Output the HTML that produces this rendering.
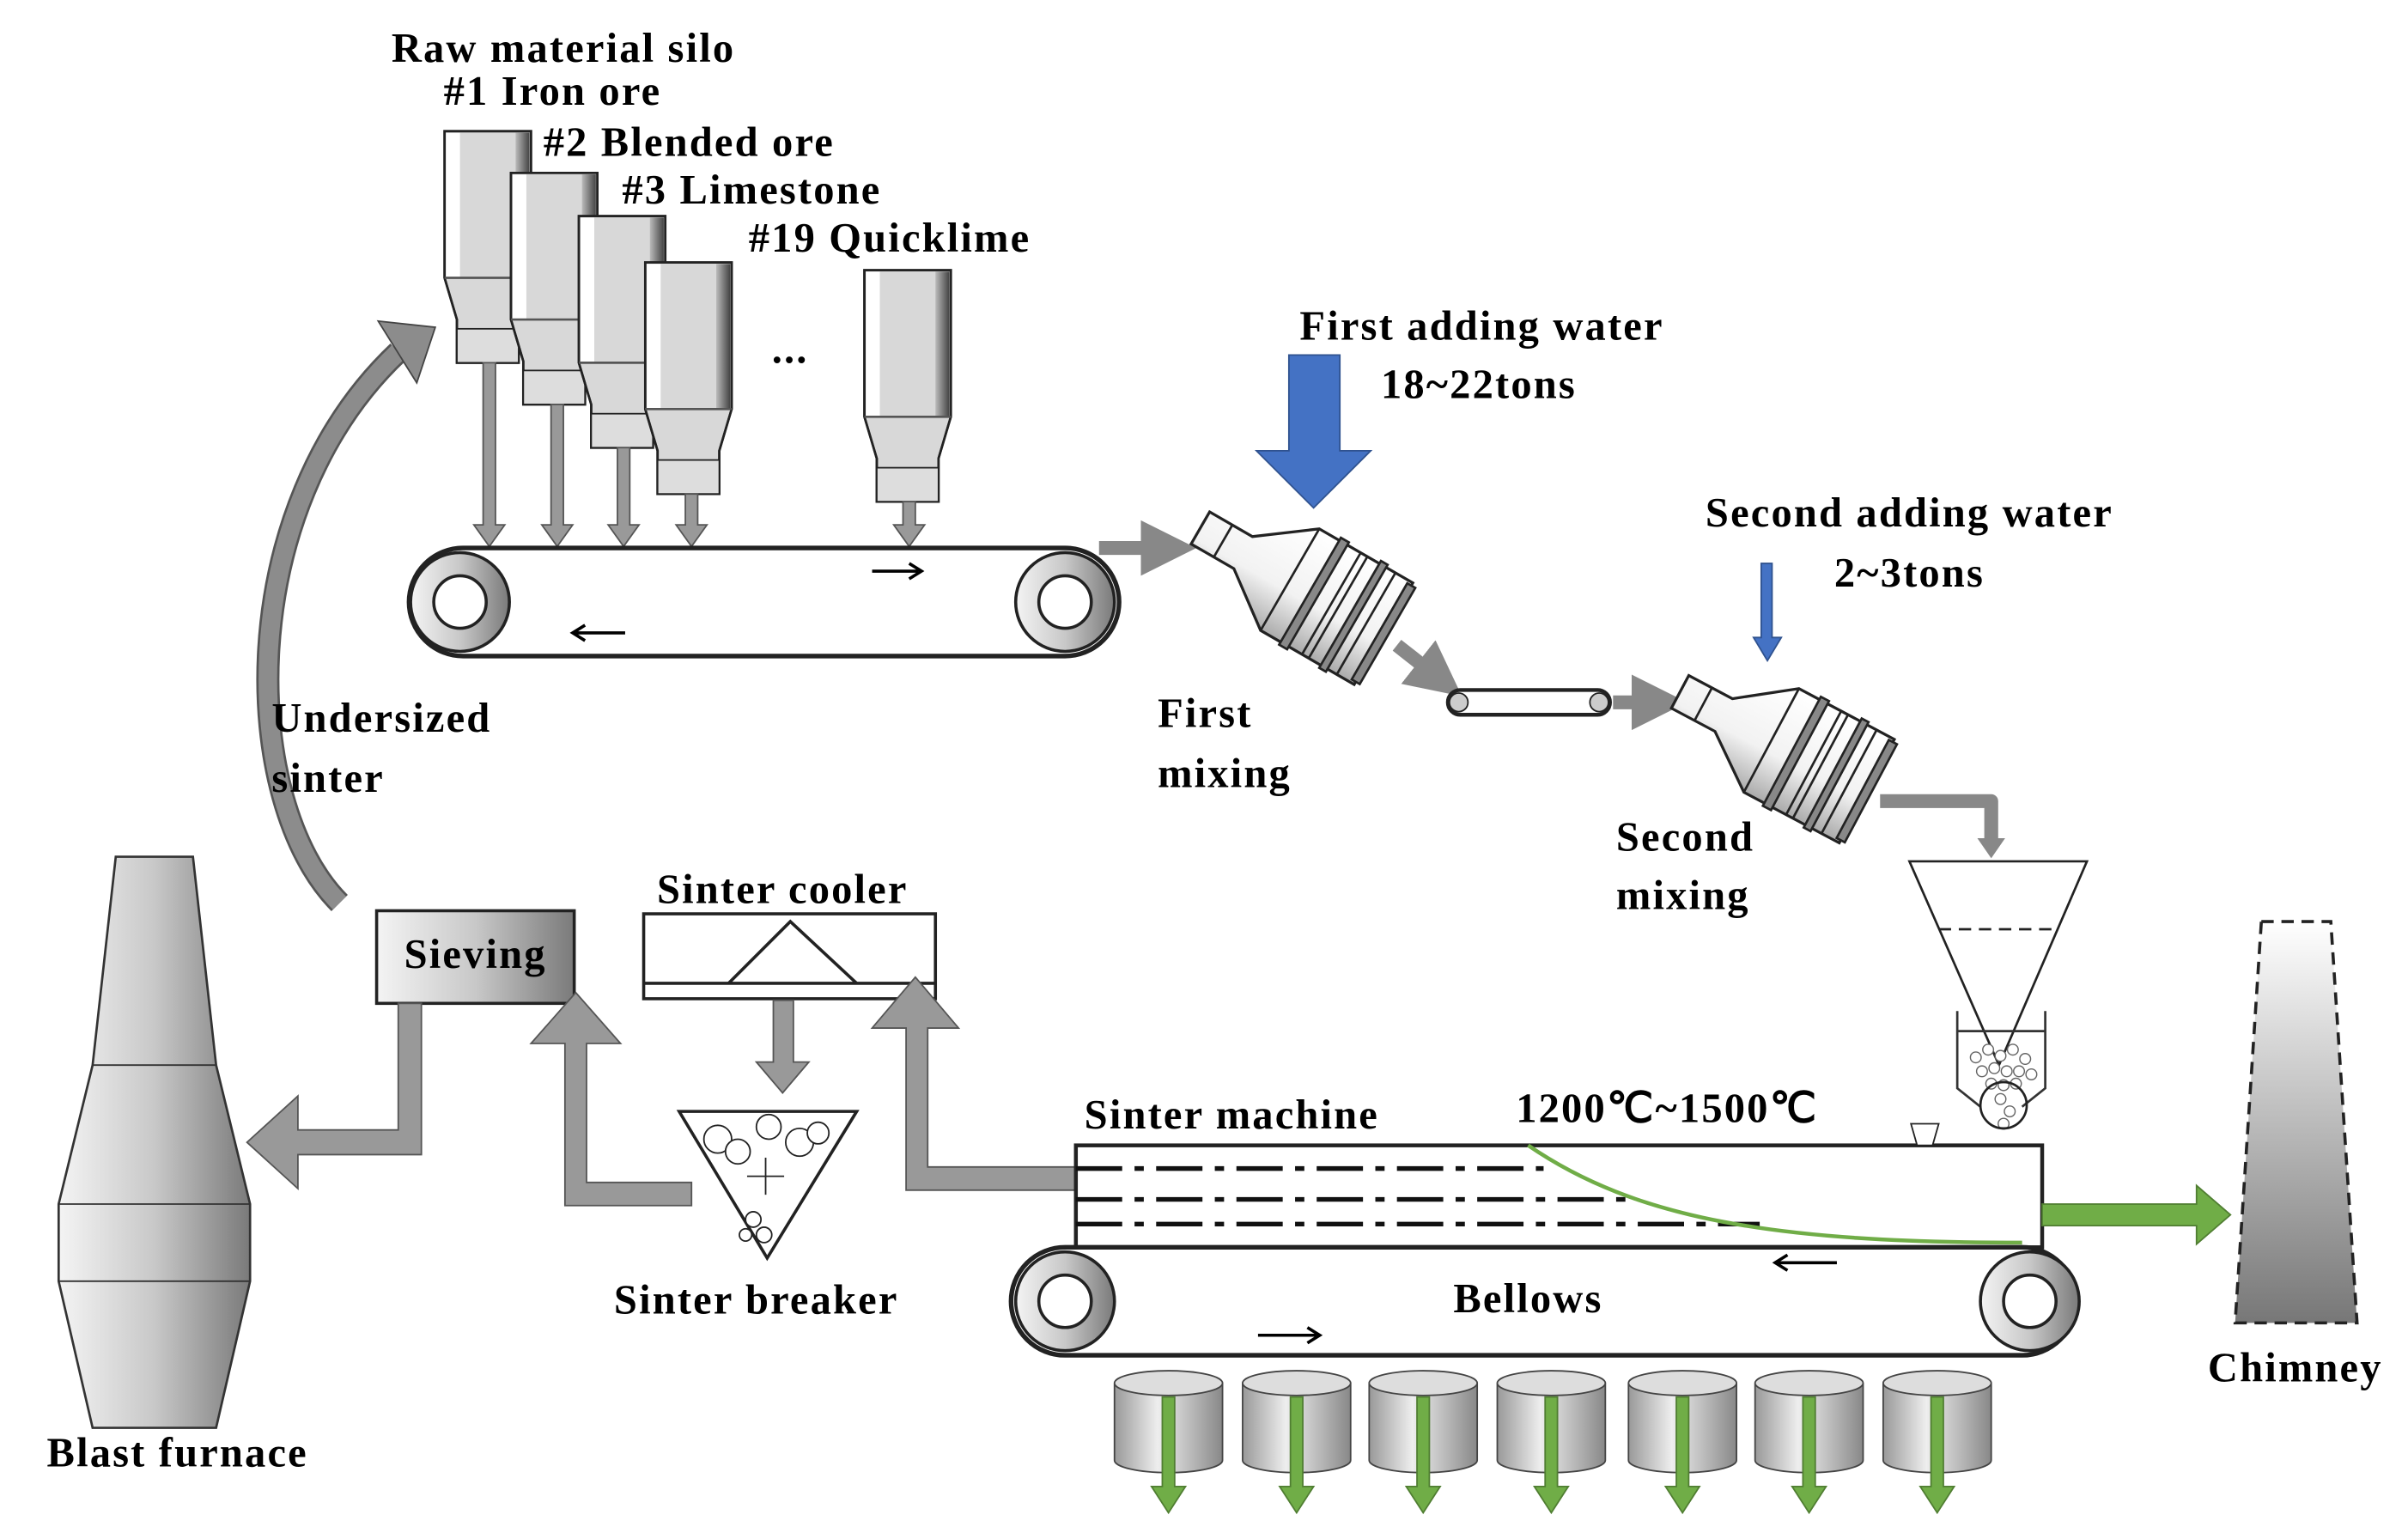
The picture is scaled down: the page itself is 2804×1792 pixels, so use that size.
<!DOCTYPE html>
<html><head><meta charset="utf-8"><style>html,body{margin:0;padding:0;background:#fff}svg{display:block}</style></head>
<body>
<svg width="2804" height="1792" viewBox="0 0 1560 997" preserveAspectRatio="none" xmlns="http://www.w3.org/2000/svg" font-family="Liberation Serif, serif" font-weight="bold" font-size="27" letter-spacing="1.2">
<defs>
<linearGradient id="g" x1="0" x2="1"><stop offset="0" stop-color="#f4f4f4"/><stop offset="0.5" stop-color="#c8c8c8"/><stop offset="1" stop-color="#7a7a7a"/></linearGradient>
<linearGradient id="dk" x1="0" x2="1"><stop offset="0" stop-color="#bbb"/><stop offset="1" stop-color="#444"/></linearGradient>
<linearGradient id="gv" x1="0" y1="0" x2="0" y2="1"><stop offset="0" stop-color="#fff"/><stop offset="1" stop-color="#777"/></linearGradient>
<linearGradient id="mx" x1="0" y1="0" x2="0" y2="1"><stop offset="0" stop-color="#fff"/><stop offset="0.6" stop-color="#f2f2f2"/><stop offset="1" stop-color="#aaa"/></linearGradient>
<linearGradient id="cyl" x1="0" x2="1"><stop offset="0" stop-color="#999"/><stop offset="0.4" stop-color="#eee"/><stop offset="1" stop-color="#888"/></linearGradient>
<g id="silo"><path d="M0,0 H56 V95 L48,122 V150 H8 V122 L0,95 Z" fill="#d8d8d8" stroke="#222" stroke-width="1.5"/>
<path d="M1,1 H10 V95 H1Z" fill="#fff"/><path d="M46,1 H55 V95 H46Z" fill="url(#dk)"/>
<path d="M0,0 H56 V95 L48,122 V150 H8 V122 L0,95 Z" fill="none" stroke="#222" stroke-width="1.5"/>
<line x1="0" y1="95" x2="56" y2="95" stroke="#555" stroke-width="1.5"/>
<rect x="8" y="128" width="40" height="22" fill="#ddd" stroke="#222"/></g>
<g id="mixer"><path d="M-72,-12 H-40 L-5,-38 H65 V38 H-5 L-40,12 H-72 Z" fill="url(#mx)" stroke="#222" stroke-width="1.8"/>
<line x1="-55" y1="-12" x2="-55" y2="12" stroke="#222" stroke-width="1.5"/>
<line x1="-5" y1="-38" x2="-5" y2="38" stroke="#222" stroke-width="1.5"/>
<g stroke="#222" stroke-width="1.5" fill="#888"><rect x="10" y="-40" width="6" height="80"/><rect x="40" y="-40" width="5" height="80"/><rect x="62" y="-36" width="6" height="72"/></g>
<g stroke="#222" stroke-width="1.5"><line x1="26" y1="-38" x2="26" y2="38"/><line x1="31" y1="-38" x2="31" y2="38"/><line x1="52" y1="-38" x2="52" y2="38"/></g></g>
<g id="bel"><path d="M0,8 V58 A35,8 0 0 0 70,58 V8" fill="url(#cyl)" stroke="#444"/><ellipse cx="35" cy="8" rx="35" ry="8" fill="#ddd" stroke="#444"/></g>
<marker id="ga" markerWidth="4" markerHeight="4" refX="2" refY="2" orient="auto"><path d="M0,0 L4,2 L0,4Z" fill="#888"/></marker>
</defs>

<text x="365" y="40" text-anchor="middle">Raw material silo</text>
<text x="358" y="68" text-anchor="middle">#1 Iron ore</text>
<text x="352" y="101">#2 Blended ore</text>
<text x="403" y="132">#3 Limestone</text>
<text x="485" y="163">#19 Quicklime</text>
<text x="500" y="235">...</text>
<use href="#silo" x="288" y="85"/>
<use href="#silo" x="331" y="112"/>
<use href="#silo" x="375" y="140"/>
<use href="#silo" x="418" y="170"/>
<use href="#silo" x="560" y="175"/>
<g fill="#999" stroke="#555" stroke-width="1">
<path d="M313,235 h8 v105 h6 l-10,14 l-10,-14 h6z"/>
<path d="M357,262 h8 v78 h6 l-10,14 l-10,-14 h6z"/>
<path d="M400,290 h8 v50 h6 l-10,14 l-10,-14 h6z"/>
<path d="M444,320 h8 v20 h6 l-10,14 l-10,-14 h6z"/>
<path d="M585,325 h8 v15 h6 l-10,14 l-10,-14 h6z"/>
</g>
<rect x="265" y="355" width="460" height="70" rx="35" fill="#fff" stroke="#222" stroke-width="3"/>
<circle cx="298" cy="390" r="32" fill="url(#g)" stroke="#222" stroke-width="2"/><circle cx="298" cy="390" r="17" fill="#fff" stroke="#222" stroke-width="2"/>
<circle cx="690" cy="390" r="32" fill="url(#g)" stroke="#222" stroke-width="2"/><circle cx="690" cy="390" r="17" fill="#fff" stroke="#222" stroke-width="2"/>
<path d="M565,370 h30 m-6,-5 l8,5 l-8,5" stroke="#000" stroke-width="2" fill="none"/>
<path d="M405,410 h-32 m6,-5 l-8,5 l8,5" stroke="#000" stroke-width="2" fill="none"/>
<path d="M220,585 C155,520 150,330 258,228" stroke="#555" stroke-width="15" fill="none"/>
<path d="M220,585 C155,520 150,330 258,228" stroke="#8c8c8c" stroke-width="12" fill="none"/>
<path d="M245,208 L282,212 L270,248 Z" fill="#8c8c8c" stroke="#444"/>
<text x="176" y="474">Undersized</text><text x="176" y="513">sinter</text>
<path d="M712,355 h45" stroke="#888" stroke-width="9" marker-end="url(#ga)"/>
<use href="#mixer" transform="translate(840,378) rotate(30)"/>
<path d="M905,418 l28,22" stroke="#888" stroke-width="9" marker-end="url(#ga)"/>
<text x="750" y="471">First</text><text x="750" y="510">mixing</text>
<path d="M835,230 h33 v62 h20 l-37,37 l-37,-37 h21z" fill="#4472c4" stroke="#2f528f"/>
<text x="960" y="220" text-anchor="middle">First adding water</text>
<text x="958" y="258" text-anchor="middle">18~22tons</text>
<rect x="938" y="447" width="105" height="16" rx="8" fill="#fff" stroke="#222" stroke-width="2.5"/>
<circle cx="945" cy="455" r="6" fill="#ccc" stroke="#222"/><circle cx="1036" cy="455" r="6" fill="#ccc" stroke="#222"/>
<path d="M1045,455 h30" stroke="#888" stroke-width="9" marker-end="url(#ga)"/>
<use href="#mixer" transform="translate(1152,482) rotate(28)"/>
<path d="M1141,365 h7 v48 h6 l-9,15 l-9,-15 h5z" fill="#4472c4" stroke="#2f528f"/>
<text x="1237" y="341" text-anchor="middle">Second adding water</text>
<text x="1237" y="380" text-anchor="middle">2~3tons</text>
<text x="1047" y="551">Second</text><text x="1047" y="589">mixing</text>
<path d="M1218,519 H1290 V545" stroke="#888" stroke-width="9" fill="none" stroke-linejoin="round"/>
<path d="M1281,543 h18 l-9,13z" fill="#888"/>
<path d="M1237,558 H1352 L1295,690 Z" fill="#fff" stroke="#222" stroke-width="1.5"/>
<line x1="1256" y1="602" x2="1333" y2="602" stroke="#222" stroke-width="1.5" stroke-dasharray="8,5"/>
<path d="M1268,655 V705 L1283,717 M1325,655 V705 L1310,717 M1268,668 H1325" fill="none" stroke="#333" stroke-width="1.5"/>
<g fill="#fff" stroke="#666" stroke-width="0.8"><circle cx="1280" cy="685" r="3.5"/><circle cx="1288" cy="680" r="3.5"/><circle cx="1296" cy="684" r="3.5"/><circle cx="1304" cy="680" r="3.5"/><circle cx="1312" cy="686" r="3.5"/><circle cx="1284" cy="694" r="3.5"/><circle cx="1292" cy="692" r="3.5"/><circle cx="1300" cy="694" r="3.5"/><circle cx="1308" cy="694" r="3.5"/><circle cx="1316" cy="696" r="3.5"/><circle cx="1290" cy="702" r="3.5"/><circle cx="1298" cy="703" r="3.5"/><circle cx="1306" cy="702" r="3.5"/><circle cx="1296" cy="712" r="3.5"/><circle cx="1302" cy="720" r="3.5"/><circle cx="1298" cy="728" r="3.5"/></g>
<circle cx="1298" cy="716" r="15" fill="none" stroke="#222" stroke-width="1.5"/>
<path d="M75,555 H125 L140,690 L162,780 V830 L140,925 H60 L38,830 V780 L60,690 Z" fill="url(#g)" stroke="#333" stroke-width="1.5"/>
<line x1="60" y1="690" x2="140" y2="690" stroke="#333"/><line x1="38" y1="780" x2="162" y2="780" stroke="#333"/><line x1="38" y1="830" x2="162" y2="830" stroke="#333"/>
<text x="115" y="950" text-anchor="middle">Blast furnace</text>
<rect x="244" y="590" width="128" height="60" fill="url(#g)" stroke="#222" stroke-width="2"/>
<text x="308" y="627" text-anchor="middle">Sieving</text>
<path d="M258,650 h15 v98 h-80 v22 l-33,-30 l33,-30 v22 h65z" fill="#999" stroke="#555"/>
<rect x="417" y="592" width="189" height="55" fill="#fff" stroke="#222" stroke-width="2"/>
<line x1="417" y1="637" x2="606" y2="637" stroke="#222" stroke-width="2"/>
<path d="M472,637 L512,597 L555,637" fill="none" stroke="#222" stroke-width="2"/>
<text x="507" y="585" text-anchor="middle">Sinter cooler</text>
<path d="M501,648 h13 v40 h10 l-17,20 l-17,-20 h11z" fill="#999" stroke="#555"/>
<path d="M440,720 H555 L497,815 Z" fill="#fff" stroke="#222" stroke-width="2"/>
<g fill="#fff" stroke="#222"><circle cx="465" cy="738" r="9"/><circle cx="478" cy="746" r="8"/><circle cx="498" cy="730" r="8"/><circle cx="518" cy="740" r="9"/><circle cx="530" cy="734" r="7"/><circle cx="488" cy="790" r="5"/><circle cx="495" cy="800" r="5"/><circle cx="483" cy="800" r="4"/></g>
<path d="M484,762 h24 M496,750 v24" stroke="#222"/>
<text x="490" y="851" text-anchor="middle">Sinter breaker</text>
<path d="M448,766 v15 h-82 v-105 h-22 l29,-33 l29,33 h-22 v90 h68z" fill="#999" stroke="#555"/>
<path d="M697,756 v15 h-110 v-105 h-22 l28,-33 l28,33 h-20 v90 h96z" fill="#999" stroke="#555"/>
<rect x="697" y="742" width="626" height="66" fill="#fff" stroke="#222" stroke-width="2.5"/>
<g stroke="#111" stroke-width="3" stroke-dasharray="30,8,6,8"><line x1="697" y1="757" x2="1000" y2="757"/><line x1="697" y1="777" x2="1060" y2="777"/><line x1="697" y1="793" x2="1140" y2="793"/></g>
<path d="M990,742 C1060,790 1150,805 1310,805" stroke="#70ad47" stroke-width="2.5" fill="none"/>
<text x="798" y="731" text-anchor="middle">Sinter machine</text>
<text x="1080" y="727" text-anchor="middle">1200℃~1500℃</text>
<path d="M1238,728 h18 l-4,14 h-10z" fill="#fff" stroke="#222"/>
<path d="M1323,780 h100 v-12 l22,19 l-22,19 v-12 h-100z" fill="#70ad47" stroke="#507e32"/>
<rect x="655" y="808" width="690" height="70" rx="35" fill="#fff" stroke="#222" stroke-width="3"/>
<circle cx="690" cy="843" r="32" fill="url(#g)" stroke="#222" stroke-width="2"/><circle cx="690" cy="843" r="17" fill="#fff" stroke="#222" stroke-width="2"/>
<circle cx="1315" cy="843" r="32" fill="url(#g)" stroke="#222" stroke-width="2"/><circle cx="1315" cy="843" r="17" fill="#fff" stroke="#222" stroke-width="2"/>
<text x="990" y="850" text-anchor="middle">Bellows</text>
<path d="M815,865 h38 m-6,-5 l8,5 l-8,5" stroke="#000" stroke-width="2" fill="none"/>
<path d="M1190,818 h-38 m6,-5 l-8,5 l8,5" stroke="#000" stroke-width="2" fill="none"/>
<use href="#bel" x="722" y="888"/><use href="#bel" x="805" y="888"/><use href="#bel" x="887" y="888"/><use href="#bel" x="970" y="888"/><use href="#bel" x="1055" y="888"/><use href="#bel" x="1137" y="888"/><use href="#bel" x="1220" y="888"/>
<g fill="#70ad47" stroke="#507e32">
<path d="M753,905 h8 v58 h7 l-11,17 l-11,-17 h7z"/><path d="M836,905 h8 v58 h7 l-11,17 l-11,-17 h7z"/><path d="M918,905 h8 v58 h7 l-11,17 l-11,-17 h7z"/><path d="M1001,905 h8 v58 h7 l-11,17 l-11,-17 h7z"/><path d="M1086,905 h8 v58 h7 l-11,17 l-11,-17 h7z"/><path d="M1168,905 h8 v58 h7 l-11,17 l-11,-17 h7z"/><path d="M1251,905 h8 v58 h7 l-11,17 l-11,-17 h7z"/>
</g>
<path d="M1465,597 H1510 L1527,857 H1448 Z" fill="url(#gv)" stroke="#222" stroke-width="2" stroke-dasharray="8,5"/>
<text x="1487" y="895" text-anchor="middle">Chimney</text>
</svg>
</body></html>
